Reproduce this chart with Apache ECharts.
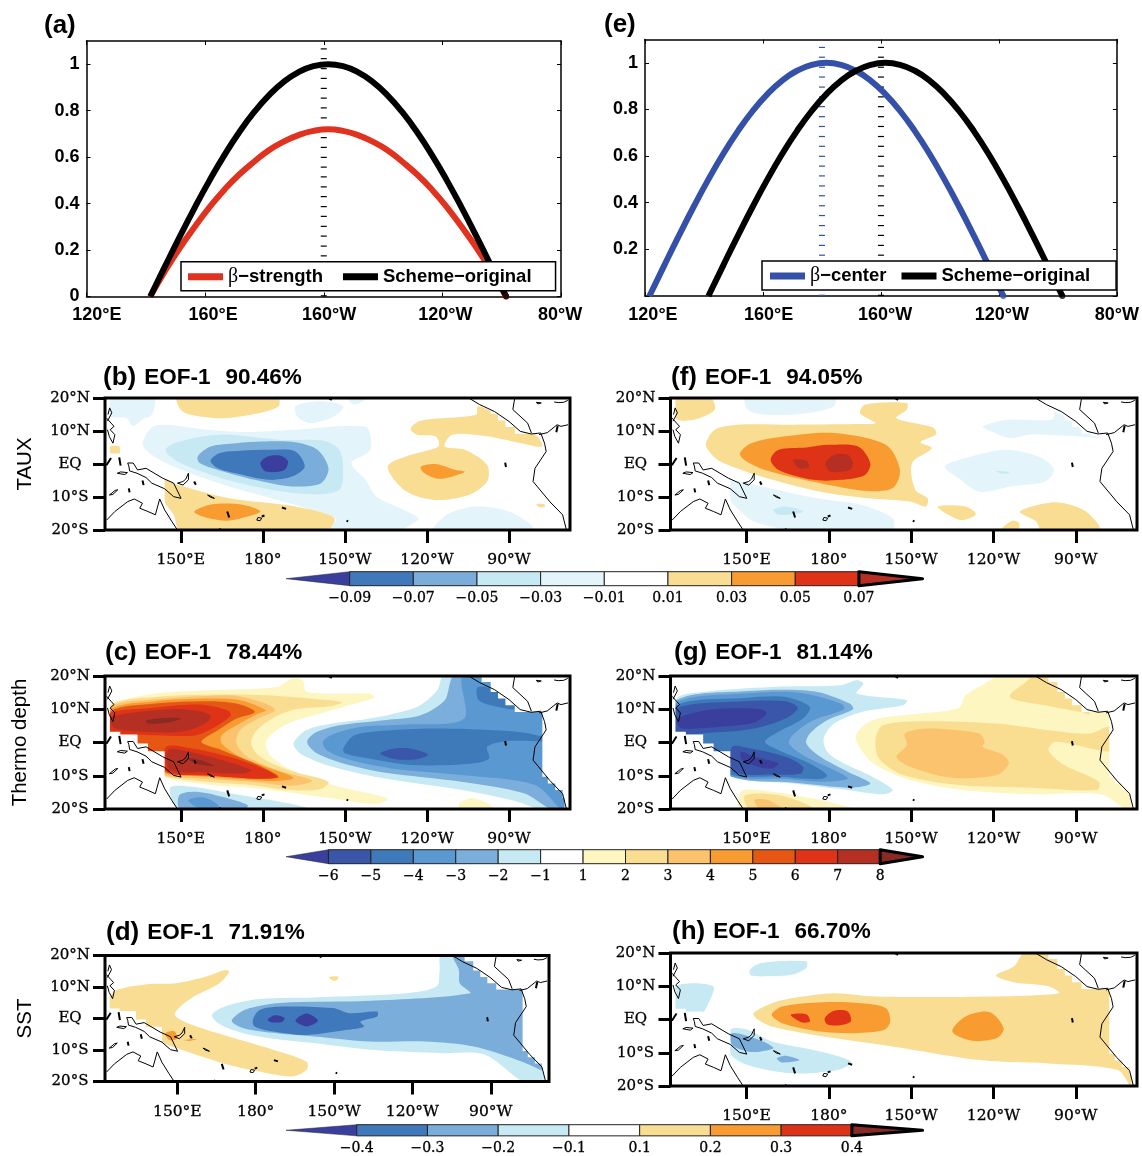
<!DOCTYPE html>
<html><head><meta charset="utf-8">
<script src="https://cdn.jsdelivr.net/npm/echarts@6/dist/echarts.min.js"></script>
<style>html,body{margin:0;background:#fff}#c{width:1142px;height:1156px}</style></head>
<body><div id="c"></div>
<script>
// ---------- line panels (a), (e) ----------
const blackLon = [141.5,146.5,151.5,156.5,161.5,166.5,171.5,176.5,181.5,186.5,191.5,196.5,201.5,206.5,211.5,216.5,221.5,226.5,231.5,236.5,241.5,246.5,251.5,256.5,261.5];
const blackVal = [0,0.1305,0.2588,0.3827,0.5,0.6088,0.7071,0.7934,0.866,0.9239,0.9659,0.9914,1,0.9914,0.9659,0.9239,0.866,0.7934,0.7071,0.6088,0.5,0.3827,0.2588,0.1305,0];
const redVal   = [0,0.11,0.21,0.3,0.385,0.46,0.525,0.58,0.63,0.667,0.695,0.713,0.72,0.713,0.695,0.667,0.63,0.58,0.525,0.46,0.385,0.3,0.21,0.11,0];
const blueLon  = [121.5,126.5,131.5,136.5,141.5,146.5,151.5,156.5,161.5,166.5,171.5,176.5,181.5,186.5,191.5,196.5,201.5,206.5,211.5,216.5,221.5,226.5,231.5,236.5,241.5];
const blueVal  = [0,0.1305,0.2588,0.3827,0.5,0.6088,0.7071,0.7934,0.866,0.9239,0.9659,0.9914,1,0.9914,0.9659,0.9239,0.866,0.7934,0.7071,0.6088,0.5,0.3827,0.2588,0.1305,0];
const dashLevels = [1.066,1.024,0.981,0.939,0.896,0.854,0.812,0.769,0.727,0.684,0.642,0.599,0.557,0.515,0.472,0.430,0.387,0.345,0.302,0.260,0.217,0.175,0.003];
const lineXLabels = ['120°E','160°E','160°W','120°W','80°W'];
const lineXTicks = [120,160,200,240,280];
const lineYTicks = [0,0.2,0.4,0.6,0.8,1];

// ---------- colour scales ----------
const tauxColors = ['#3a3f9e','#3f78bb','#7baddb','#c6e9f3','#e3f5fa','#ffffff','#f8dd92','#f89c31','#de3316','#b53022'];
const thermoColors = ['#3a3f9e','#3a56a8','#3e7aba','#5a98d2','#7caedb','#c6e9f3','#ffffff','#fdf6c0','#f9de92','#fcc36f','#f89c31','#e75714','#de3316','#b53022','#8a2a24'];
const sstColors = ['#3a3f9e','#3f78bb','#7baddb','#c6e9f3','#ffffff','#f8dd92','#f89c31','#de3316','#8a2a24'];
const tauxLabels = ['−0.09','−0.07','−0.05','−0.03','−0.01','0.01','0.03','0.05','0.07'];
const thermoLabels = ['−6','−5','−4','−3','−2','−1','1','2','3','4','5','6','7','8'];
const sstLabels = ['−0.4','−0.3','−0.2','−0.1','0.1','0.2','0.3','0.4'];

// ---------- map axes ----------
const lonTicks = [150,180,210,240,270];
const lonLabels = ['150°E','180°','150°W','120°W','90°W'];
const latTicks = [-20,-10,0,10,20];
const latLabels = ['20°S','10°S','EQ','10°N','20°N'];

// ---------- filled contours: [colour index, [lon,lat, lon,lat, ...]] ----------
const contoursB = [
 [4,[123,20,140,20,139.5,15,136,13.5,132.5,11.5,130,14,123,14.5]],
 [4,[136,6.3,140.7,11.7,159.6,10.4,173,9.7,191.9,10.4,217.5,11.4,219.5,7.8,218.9,3.8,212.4,0.3,217.5,-4.8,221.6,-9.9,230.3,-13.4,237,-16.5,235,-18,229.6,-20,203.4,-20,206.7,-16.5,191.9,-12.4,167.7,-6.8,148.8,-1.3,139.4,2.8]],
 [4,[192,17.5,201.3,19,209.4,17.5,206,14.4,197.3,12.4,192.6,14.4]],
 [4,[210.8,20.5,218.9,20.5,213.5,18]],
 [4,[242.5,-20.5,247.2,-15.4,258,-12.9,270,-14.4,278.2,-18.5,278.8,-20.5]],
 [3,[144.7,4.8,150.1,7,165,8.9,186.5,7.3,202.7,7,208,4.3,209.4,-1.8,208,-7.8,198.7,-9.2,181.1,-7.5,165,-4.3,151.5,-0.3,145.4,2.8]],
 [2,[156.2,2.3,160.9,5.3,170.4,6.3,179.8,6.8,191.9,6.6,200,4.3,204,-1.3,201.3,-5.8,190.6,-6.8,177.1,-4.8,163.6,-1.8,156.9,0.3]],
 [1,[160.9,1,164.3,3.3,171.7,4,183.8,4.3,191.9,3.8,195.3,-0.8,190.6,-3.8,182.5,-4.8,171.7,-3.1,163.6,-1.3]],
 [0,[179.1,0.3,181.8,2.3,186.5,2.5,189.2,0.8,187.9,-1.8,181.1,-2.3]],
 [6,[148.8,20.5,185.2,20.5,185.8,17.5,178.4,15.4,165,13.9,152.8,15.1,149.5,17]],
 [6,[144.1,-4.8,148.8,-6.3,167.7,-10.4,191.9,-12.9,206.1,-16.3,202.7,-20.5,150.1,-20.5,147.4,-15.4,144.1,-11.4]],
 [6,[124.3,5.3,127.5,5.3,127.5,3,124.3,3]],
 [6,[225.6,-0.8,232.3,2.3,243.1,4.8,244.5,5.8,243.1,8.4,236.4,8.9,234,10.7,237.7,13.1,258,14.9,258.6,17.5,264.7,15.4,272.8,11.4,279.5,9.1,282.2,5.3,272.8,6.6,262,8.4,249.2,8.9,246.5,5.3,253.9,4.3,262,-0.3,262,-5.3,255.2,-9.4,243.1,-10.9,232.3,-8.2]],
 [6,[280,-12.2,283,-12.2,283,-13,281,-13]],
 [7,[237.7,-0.8,243.1,0,250.5,-1.8,253.9,-2.3,251.2,-3.3,244.5,-4.5,239.1,-2.8]],
 [7,[154.9,-14.4,161.6,-12.2,173,-12.4,179.1,-14.4,171.7,-16.5,166.3,-17.2,158.2,-16]]
];
const contoursF = [
 [6,[123.9,20.5,136.5,20.5,138.4,16.5,130.8,13.4,123.9,13.9]],
 [6,[135.2,6.3,138.4,10.4,146.6,11.9,166.8,11.9,189.5,12.1,197,12.4,191.4,15.4,193.3,18,208.4,18.5,208.4,16.5,204.6,13.9,217.8,11.1,219.1,9.1,213.4,6.6,217.5,4.8,210.3,0.3,211.5,-7.8,216,-10.4,215.3,-12.9,209.6,-11.4,194.5,-10.4,176.9,-8.4,155.4,-3.8,140.3,0.8,135.9,4.3]],
 [7,[147.6,3.3,151.7,6.3,164.2,8.4,181.9,9.4,200.8,5.8,205.9,-1.8,203.3,-7.3,194.5,-8.2,176.9,-5.8,156.7,-1.8,149.1,1.3]],
 [8,[158.8,1.3,161.7,4.3,171.8,5,180,5.8,190.7,5.3,195.1,0.3,193.2,-3.3,184.4,-4.8,174.3,-4.8,161.7,-1.8]],
 [9,[178.8,0.3,181.9,2.8,186.9,2.8,188.8,0.3,187.6,-1.8,180.6,-2.3]],
 [9,[167,1.2,171.8,1,172.8,-0.8,169.3,-1.3]],
 [4,[149.7,20.5,181.9,20.5,181.9,17.5,171.8,15.4,156.7,14.9,150.4,16.5]],
 [4,[236.1,11.4,245,13.4,261.4,13.4,262.6,16,266.4,13.9,275.3,8.9,280.3,7.8,270.2,8.4,252.5,8.9,246.2,7.8,238.7,10.1]],
 [4,[222.3,-0.8,229.8,1.8,244.9,4.3,257.6,1.8,262,-1.8,258.8,-5.3,246.2,-6.8,234.9,-8.4,227.3,-4.3]],
 [3,[241,-2.2,244,-2.2,246,-2.7,243,-2.9]],
 [4,[144.1,-5.3,155.4,-6.8,175.6,-10.4,192,-12.4,203.3,-16.5,202.7,-20.5,170.6,-20.5,152.9,-17.5,146.6,-13.4,144.1,-10.9]],
 [3,[159.8,-13.9,164.2,-12.9,170.6,-14.4,164.9,-15.4,161.1,-15.2]],
 [6,[242.2,-20.5,246.8,-17.2,249.4,-18,248.7,-20.5]],
 [6,[249.7,-14.4,262.6,-11.6,272.7,-13.9,278.4,-18.5,278.4,-20.5,257.6,-20.5,255.7,-17.5]],
 [6,[219.7,-12.9,229.8,-12.9,233.6,-15.2,228.6,-17,223.5,-15.4]]
];
const contoursC = [
 [7,[125.9,12.2,140.7,14.7,159.6,15.7,185.2,16.7,190.6,19.2,194.6,18.7,196,15.2,218.9,14.7,220.9,13.5,209.4,10.7,198.7,8.2,187.9,5.2,181.1,0.2,183.2,-4.3,191.9,-8.8,205.4,-12.8,225.6,-16.8,221.6,-18.6,205.4,-16.8,178.4,-13.8,159.6,-12.6,143.4,-10.3,135,-5,123,2,123,11]],
 [8,[124.5,11.2,140.7,13.7,165,14.4,181.1,14.2,208.8,12.2,205.4,11,191.9,10,183.8,7.4,177.8,3.7,175.7,-0.3,179.1,-4.3,189.2,-8.3,204,-11.8,201.3,-14,189.2,-14.3,175.7,-12.8,159.6,-11.8,143.4,-10,135,-5,123,2]],
 [9,[124.5,10.7,140.7,13,159.6,14,170.4,14,181.1,11.7,184.5,9.7,178.4,7.2,171.7,3.7,170.4,-0.3,174.4,-4.3,185.2,-8.3,198,-11.5,190.6,-13,175.7,-11.8,159.6,-11,143.4,-9.8,135,-5,123,2]],
 [10,[124.5,10,140.7,12.4,159.6,13.2,171.7,12.7,181.1,9.7,178.4,8.7,170.4,5.2,165,2.2,165,-0.3,171.7,-4.3,181.1,-7.3,191.2,-10.6,183.8,-11.6,170.4,-11,159.6,-10.3,144.1,-9.3,135,-5,123,2]],
 [11,[124.5,9.4,140.7,11.7,159.6,12.4,170.4,11.7,177.1,9.2,170.4,7.2,163.6,3.7,157.5,0.2,165,-2.3,175.7,-5.8,185.8,-10.3,178.4,-11,167.7,-10.3,151.5,-9.8,144.1,-8.8,135,-5,123,2]],
 [12,[124,8.7,137,10.2,156.9,11.4,167,9.7,168.3,8.2,163.6,5.2,155.5,2.2,140.7,2.2,127.9,2.4,124,3]],
 [12,[144.7,-1.3,154.2,-1.8,167.7,-4.3,178.4,-7.3,185.2,-10.3,175.7,-10.8,158.2,-9.8,144.7,-8.8]],
 [13,[124.3,7.7,137,9.4,151.5,10,160.9,8.2,158.9,5.7,150.1,3.2,138,3.2,125.9,4.2,124.3,6.2]],
 [13,[145.4,-2.3,154.2,-3,165,-5.3,175.7,-8.3,173,-9.3,159.6,-9,146.1,-8.3]],
 [14,[137.3,6.7,144.7,7.4,150.1,7.2,145.4,6,138,5.7]],
 [14,[152,-4.6,157,-5.3,162,-7,156,-6.5]],
 [5,[191.2,-0.3,195.9,3.7,205.4,5.7,218.9,7.2,236.4,10.7,243.8,15.7,246.5,20.5,293,20.5,293,-20.5,282.6,-20.5,273.2,-17.8,252.9,-14.3,223,-10.6,205.4,-7.3,194.2,-3.6]],
 [4,[196.2,0.2,199.3,3,208.1,5.2,224.3,6.7,237.7,8.2,246.5,12.7,250.5,20.5,293,20.5,293,-20.5,286.3,-20.5,275.5,-15.3,252.6,-11.8,224.3,-9,209.4,-6.3,199.3,-3]],
 [3,[202,0.2,205.4,2.4,216.2,4.7,232.3,5.4,253.6,7.2,253.6,20.5,293,20.5,293,-20.5,289.6,-20.5,279.5,-12.8,252.6,-9.8,227,-7.8,212.1,-5.3,203.4,-2.3]],
 [2,[209.4,-1.8,213.5,2.2,227,3.7,245.8,4.2,272.8,3.2,285,1.2,285,0.4,268.8,0.4,262,-1.3,262.7,-4.8,256.6,-6.3,234.9,-6.8,218.9,-4.8,210.1,-3.3]],
 [2,[258.9,12.7,258.6,16.7,265.4,15.7,272.8,10.2,266,10.7]],
 [1,[222.9,-3.3,227,-2,233.7,-1.8,240.4,-3.6,236.4,-5,228.3,-5]],
 [5,[146.1,-13.6,154.2,-13.3,171.7,-15.8,189.2,-18.3,198.7,-20.5,150,-20.5]],
 [4,[149.5,-15.8,155.5,-14.8,165,-16.3,174.4,-18.8,173,-20.5,150,-20.5]],
 [3,[152.8,-17.3,158.2,-16.5,163.6,-18.8,163,-20.5,155.5,-19.3]],
 [7,[251.9,-18.3,256.6,-16.8,263.3,-18.8,264,-20.5,252.6,-20.5]]
];
const contoursG = [
 [5,[124.5,13.2,134,15.2,159.2,16.7,184.4,17.2,190.1,18.7,192.6,17.7,190.1,14.7,208.4,12.7,207.1,11.2,192,9.2,181.9,5.7,178.1,1.2,179.4,-2.8,184.4,-5.8,195.8,-10.3,203.3,-14.3,199.6,-15.6,186.9,-14.3,166.8,-12.3,147.9,-10.8,135,-5,123,2]],
 [4,[124.5,12.7,149.1,15.4,174.3,15.4,187.6,11.7,188.8,10,179.4,6.7,173.1,2.7,171.8,-0.3,176.9,-4.3,186.9,-8.8,195.1,-12.3,188.2,-13.6,166.8,-12,146.6,-10.8,135,-5,123,2]],
 [3,[124.5,12,149.1,14.7,169.3,15,184.4,11.7,185.6,10,174.3,6.7,166.8,2.2,165.5,-0.3,170.6,-3.8,179.4,-7.3,186.9,-10.8,176.9,-11.8,164.2,-11,144.7,-10.3,135,-5,123,2]],
 [2,[124.5,11.2,149.1,13.4,164.2,13.7,173.1,10.7,170.6,7.2,161.7,3.2,156.7,0.2,163,-2.8,171.8,-5.8,179.4,-9.8,176.9,-11,161.7,-10.3,144.7,-9.8,135,-5,123,2]],
 [1,[124.2,10.2,149.1,12.4,164.2,12.4,168.7,10.4,164.2,7.2,152.9,4.2,137.8,3,124.2,3]],
 [1,[144.7,-1.3,151.6,-1.8,164.2,-4.3,170.6,-7.3,169.9,-9.3,160.5,-9.6,145.3,-8.8]],
 [0,[125.8,7.7,137.8,10,155.4,10,157.3,8.7,152.9,6,140.3,4.7,126.4,4.2,124.5,6.2]],
 [0,[147.9,-2.8,152.9,-4.3,161.7,-6.3,159.2,-7.8,154.2,-7.3,148.5,-5.3]],
 [7,[190.1,2.7,195.8,6.7,209.6,8.4,227.3,10.4,229.8,14.2,236.1,17.4,243.7,20.5,293,20.5,293,-20.5,289.1,-20.5,279,-15.6,255,-15.6,228.6,-14.3,209.6,-11.3,197,-6.8,190.7,-0.8]],
 [8,[197,0.7,199.6,5.2,216,6.4,241.2,5.7,260.1,3.7,275.2,2.7,281.5,4.7,284,4.7,284,-2.3,278.4,-2.3,262.6,0.2,260.1,-2.3,265.8,-6.8,278.4,-11.8,277.7,-14.3,253.8,-13.6,227.3,-12.8,207.1,-9.8,198.3,-4.8]],
 [8,[246,13.7,252.5,18.7,254.4,20.5,275,20.5,275,8.5,272.7,9,260.1,11]],
 [9,[204.6,-4.3,208.4,-0.8,207.7,2.7,216,4.2,234.9,2.7,236.8,0.2,236.1,-1.3,243.7,-3.8,245.6,-6.3,241.2,-9.8,224.8,-10.6,209.6,-7.3]],
 [7,[148.1,-14.6,159.2,-14.8,176.9,-17.3,190.1,-20.5,148.1,-20.5]],
 [8,[149.4,-16,161.7,-15.8,173.7,-19.3,173.1,-20.5,151.6,-20.5]],
 [9,[152.9,-17.3,157.9,-17.3,163.6,-20.5,155.4,-20.5]]
];
const contoursD = [
 [5,[123.8,6.5,127,9.1,138.3,10.9,149.7,11.2,161.1,13.3,168.2,15.4,169.9,14.9,166.1,11.2,155.4,6.5,149,1.4,154,-1.5,169.6,-5.7,186.7,-9.9,199.5,-13.7,199.5,-16.3,193.8,-18.4,178.2,-16.3,165.4,-13.7,149.7,-9.4,142.6,-7.3,122.5,-5,122.5,3]],
 [5,[208,13.1,211.6,13.3,210.9,12.1,209.5,12.1]],
 [6,[145.4,-4.7,149,-4.1,149.7,-6.5,146.9,-6.8]],
 [6,[152.6,-6.8,157.5,-6.5,154.7,-7.1]],
 [3,[163.2,1,168.2,3.8,181,6.2,202.3,6.7,237.9,8,249.3,10.2,250.4,15,251.4,20.5,293,20.5,293,-20.5,283.4,-20.5,267.8,-11.5,252.1,-11,223.7,-9.9,202.3,-7.8,181,-5.7,167.8,-2.5]],
 [2,[170.8,-0.7,176,2.8,189.5,4.9,223.7,5.6,262.1,8,258.1,11.2,257.8,15.4,255.7,20.5,293,20.5,293,-17,290.5,-16.8,282,-13.7,263.5,-8.9,245,-7.3,223.7,-7.3,202.3,-5.7,188.1,-4.7,175.3,-3.1]],
 [1,[178.9,-0.4,181.7,2.8,191,3.8,209.5,3.3,215.9,1.7,226.5,2.2,226.5,0.6,220.1,-1,221.5,-2.5,215.1,-3.6,199.5,-5.2,186.7,-4.1,179.6,-2.5]],
 [0,[184.6,-0.4,187.4,1,191,0.2,190.3,-1,186,-1.2]],
 [0,[195.2,-0.7,199.5,1.6,203.8,-0.7,199.5,-2.5]]
];
const contoursH = [
 [5,[152.5,1.9,159.2,4.9,168,6.6,181.9,7.9,197,6.9,238.7,6.9,263.9,7.9,260.1,10,247.5,11.2,240.9,13.2,247.5,16,251.9,20.5,293,20.5,293,-20.5,290.4,-20.5,285.3,-15.2,260.1,-13.2,234.9,-12.2,203.3,-8.1,178.1,-5.1,159.2,-2.1,153.5,0.4]],
 [6,[159.2,1.4,163,3.9,178.1,5.2,192,4.9,200.8,3.4,202.4,-0.6,200.2,-3.1,189.5,-4.1,176.9,-3.6,163,-1.1]],
 [6,[225,-3.6,229.8,0.9,238.7,2.2,243.7,-2.6,241.2,-5.6,232.3,-6.4]],
 [7,[166.1,1.4,171.8,1.6,173.1,-0.6,169.9,-0.8]],
 [7,[178.5,0.4,181.9,2.6,186.9,2.4,188,-0.6,183.2,-1.8,179.4,-1.4]],
 [3,[151.3,15,155.4,17,171.8,17.5,171.8,15.5,166.8,13.5,157.9,13,151.6,13.3]],
 [3,[123.9,10,137.8,10,135.9,4.4,133.4,1.7,123.9,3.4]],
 [3,[144.1,-3.1,150.4,-3.1,159.2,-6.6,176.9,-9.6,188.2,-12.7,183.2,-15.2,166.8,-16.2,150.4,-13.7,144.1,-10.2]],
 [2,[144.7,-4.1,155.4,-6.4,159.8,-8.6,155.4,-9.6,150.4,-9.6,144.7,-7.6]],
 [2,[161.1,-11.7,164.3,-10.9,169.3,-12.2,163,-12.9]]
];

// ---------- land mask and coastlines (lon, lat) ----------
const maskWest = [122,20.5,124.1,20.5,124.1,3.2,127.9,3.2,127.9,2.4,134.2,2.4,134.2,-0.3,138,-0.3,138,-2.6,144.1,-2.6,144.1,-20.5,122,-20.5];
const maskEast = [260,20.5,260,18.2,263.3,18.2,263.3,15.2,266,15.2,266,13.2,268.7,13.2,268.7,11.2,272.1,11.2,272.1,9.2,282.2,9.2,282.2,-10.3,284.2,-10.3,284.2,-12.3,286.9,-12.3,286.9,-14.3,289.6,-14.3,289.6,-16.8,290.3,-16.8,290.3,-20.5,293,-20.5,293,20.5];
const coastLines = [
 [255.3,20,259.3,18,264.7,15.9,270,12.9,274.1,9.9,278.1,9.1,281.6,9.4,283,6.3,283.6,3.8,279.5,-1.3,278.8,-5.3,284.9,-11.4,289.6,-15.4,291,-20],
 [272.1,20,271.4,16.5,276.8,12.4,278.2,9.4],
 [281,8.9,284,9.5,287.6,11.9,289,11.4,291.6,11.9],
 [287.3,9.6,287.8,11.6],
 [280,18.7,281.8,18.5,280.5,18.2,280,18.7],
 [286.5,18.8,288,18.6,290,18.7,291.5,19.3],
 [122.9,13.9,124.5,12.4,125.6,11.4,124.2,10.4,125.9,8.9,125.2,6.3,123.9,8.3,123.2,10.4],
 [123.2,13,124.8,15.5,124,17,123.4,15],
 [122.8,-0.4,124.5,1.8],
 [127.5,2,128,-0.5],
 [126.8,-2.8,129.5,-3.2,130.5,-2.6,128,-2.4,126.8,-2.8],
 [130.6,0.3,132.6,0.3,134.2,-1.8,137.3,-1.3,143.4,-4.3,147.4,-5.8,150.1,-10.4,147.4,-9.9,144.1,-7.5,139.4,-5.8,137.3,-4.1,134,-2.8,131.3,-2.1,131,-0.6,130.6,0.3],
 [148.8,-5.8,150.8,-6.4,152.8,-4.8,152.8,-2.8,151.8,-4.6,150.8,-5.3,148.8,-5.8],
 [154.9,-5.3,155.5,-6.3],
 [159.8,-9.4,160.6,-9.6,162.3,-10.4,160.9,-10.1,159.8,-9.4],
 [167,-14.4,167.7,-16.2],
 [187,-13.2,188.5,-13.6],
 [177.8,-17,179,-17.2,179.6,-16.4,178.2,-16.2,177.8,-17],
 [179.6,-15.9,180.6,-15.6],
 [210.6,-17.2,211.2,-17.4],
 [122.9,-17,125.9,-14.4,130.6,-11.4,133,-10.6,136,-11.9,135,-13.4,138,-14.4,140.7,-15.4,142.3,-10.6,144.1,-13.9,146.8,-17.5,148.8,-20],
 [123.9,-9.4,126,-8,127,-7.8,125.2,-9.2,123.9,-9.4],
 [131,-7.4,131.3,-8.6],
 [136,-5,136.4,-6.4],
 [204,20,205.2,19.4],
 [164,-20,164.6,-19.6],
 [268.6,0.4,268.9,-0.9]
];

// ---------- panels and titles ----------
const panels = [
 {tag:'(b)',pct:'90.46%',polys:contoursB,colors:tauxColors,l:105,t:398,w:465,h:132,name:'TAUX',gap:69,tx:103,ty:364.5},
 {tag:'(c)',pct:'78.44%',polys:contoursC,colors:thermoColors,l:105,t:676,w:465,h:133,name:'Thermo depth',gap:74,tx:105,ty:640},
 {tag:'(d)',pct:'71.91%',polys:contoursD,colors:sstColors,l:105,t:955.5,w:444,h:126,name:'SST',gap:69,tx:106,ty:919.5},
 {tag:'(f)',pct:'94.05%',polys:contoursF,colors:tauxColors,l:670.5,t:398,w:466.5,h:132,name:'',gap:69,tx:671,ty:364.5},
 {tag:'(g)',pct:'81.14%',polys:contoursG,colors:thermoColors,l:670.5,t:676,w:466.5,h:133,name:'',gap:69,tx:674,ty:640},
 {tag:'(h)',pct:'66.70%',polys:contoursH,colors:sstColors,l:670.5,t:953,w:466.5,h:133,name:'',gap:69,tx:672,ty:919}
];
const bars = [
 {colors:tauxColors,labels:tauxLabels,t:571.7},
 {colors:thermoColors,labels:thermoLabels,t:849.7},
 {colors:sstColors,labels:sstLabels,t:1124.7}
];

const SANS='"Liberation Sans",Helvetica,Arial,sans-serif', SERIF='"DejaVu Serif",serif';
const option={animation:false,backgroundColor:'#fff',title:[],legend:[],grid:[],xAxis:[],yAxis:[],series:[],tooltip:{show:false}};
let gi=0;

function dashSeries(idx,lon,color){
  return {type:'scatter',xAxisIndex:idx,yAxisIndex:idx,symbol:'rect',symbolSize:[6,1.2],silent:true,z:3,clip:false,
    itemStyle:{color,opacity:1},data:dashLevels.map(v=>[lon,v])};
}
function linePanel(cfg){
  const i=option.xAxis.length;
  option.grid.push({left:cfg.l,top:cfg.t,width:cfg.w,height:cfg.h});
  const g=gi++;
  const common={axisLine:{show:true,onZero:false,lineStyle:{color:'#000',width:1.5}},splitLine:{show:false}};
  const tick={show:true,inside:true,length:4,lineStyle:{color:'#000',width:1}};
  option.xAxis.push({...common,type:'value',gridIndex:g,min:120,max:280,position:'bottom',
    axisTick:{...tick,customValues:lineXTicks},
    axisLabel:{show:true,customValues:cfg.xLabelAt,margin:10,color:'#000',fontFamily:SANS,fontWeight:'bold',fontSize:18,hideOverlap:false,
      formatter:(v)=>lineXLabels[cfg.xLabelAt.indexOf(v)]}});
  option.yAxis.push({...common,type:'value',gridIndex:g,min:0,max:1.1,position:'left',
    axisTick:{...tick,customValues:lineYTicks},
    axisLabel:{show:true,customValues:cfg.yLabels,margin:7,color:'#000',fontFamily:SANS,fontWeight:'bold',fontSize:18,hideOverlap:false,
      formatter:(v)=>v===0?'0':String(v)}});
  option.xAxis.push({...common,type:'value',gridIndex:g,min:120,max:280,position:'top',axisTick:{...tick,customValues:lineXTicks},axisLabel:{show:false}});
  option.yAxis.push({...common,type:'value',gridIndex:g,min:0,max:1.1,position:'right',axisTick:{...tick,customValues:lineYTicks},axisLabel:{show:false}});
  cfg.dashes.forEach(d=>option.series.push(dashSeries(i,d[0],d[1])));
  cfg.lines.forEach(s=>{
    option.series.push({type:'line',name:s.name,xAxisIndex:i,yAxisIndex:i,smooth:0.5,showSymbol:false,clip:true,silent:true,z:4,
      lineStyle:{color:s.color,width:6},itemStyle:{color:s.color},data:s.lon.map((x,k)=>[x,s.val[k]])});
    option.series.push({type:'scatter',xAxisIndex:i,yAxisIndex:i,clip:false,silent:true,z:4,symbolSize:6,itemStyle:{color:s.color},
      data:[[s.lon[s.lon.length-1],s.val[s.val.length-1]]]});
  });
  option.legend.push({show:true,left:cfg.lgX,top:cfg.lgY,orient:'horizontal',selectedMode:false,z:6,
    itemWidth:35,itemHeight:7,itemGap:cfg.lgGap,padding:cfg.lgPad,borderColor:'#000',borderWidth:1.5,backgroundColor:'#fff',
    data:cfg.lines.map(s=>({name:s.name,icon:'rect'})),
    formatter:n=>n.startsWith('β')?'{g|β}{n|'+n.slice(1)+'}':'{n|'+n+'}',
    textStyle:{color:'#000',rich:{g:{fontFamily:'"Liberation Serif",serif',fontSize:20,color:'#000'},n:{fontFamily:SANS,fontWeight:'bold',fontSize:18.5,color:'#000'}}}});
  option.title.push({text:cfg.tag,left:cfg.tagX,top:cfg.tagY,padding:0,textStyle:{fontFamily:SANS,fontWeight:'bold',fontSize:26,color:'#000'}});
}

linePanel({tag:'(a)',tagX:44,tagY:13,l:86.5,t:41,w:474.5,h:255.5,
  xLabelAt:[123.5,162.7,201.8,241,279.7],yLabels:lineYTicks,
  dashes:[[200,'#000']],
  lines:[{name:'β−strength',color:'#e1321f',lon:blackLon,val:redVal},{name:'Scheme−original',color:'#000',lon:blackLon,val:blackVal}],
  lgX:181,lgY:261.7,lgGap:20,lgPad:[5,24,4,7]});
linePanel({tag:'(e)',tagX:604,tagY:11.5,l:645,t:39.5,w:475,h:256.5,
  xLabelAt:[122.7,161.9,201.4,241,280],yLabels:lineYTicks.slice(1),
  dashes:[[180,'#3450a8'],[200,'#000']],
  lines:[{name:'β−center',color:'#3450a8',lon:blueLon,val:blueVal},{name:'Scheme−original',color:'#000',lon:blackLon,val:blackVal}],
  lgX:762,lgY:261,lgGap:15,lgPad:[5,26,4,8]});

panels.forEach(p=>{
  const i=option.xAxis.length;
  option.grid.push({left:p.l,top:p.t,width:p.w,height:p.h});
  const g=gi++;
  option.xAxis.push({type:'value',gridIndex:g,min:122.3,max:292.3,position:'bottom',axisLine:{show:false,onZero:false},splitLine:{show:false},
    axisTick:{show:true,length:13,lineStyle:{color:'#000',width:3},customValues:lonTicks},
    axisLabel:{show:true,customValues:lonTicks,margin:22,color:'#000',fontFamily:SERIF,fontSize:15.5,textBorderColor:'#000',textBorderWidth:0.3,hideOverlap:false,
      formatter:v=>lonLabels[lonTicks.indexOf(v)]}});
  option.yAxis.push({type:'value',gridIndex:g,min:-20,max:20,interval:10,position:'left',axisLine:{show:false,onZero:false},splitLine:{show:false},
    name:p.name,nameLocation:'middle',nameRotate:90,nameGap:p.gap,nameMoveOverlap:false,nameTextStyle:{fontFamily:SANS,fontSize:20.5,color:'#000'},
    axisTick:{show:true,length:12,lineStyle:{color:'#000',width:3}},
    axisLabel:{show:true,margin:35,align:'center',color:'#000',fontFamily:SERIF,fontSize:15,textBorderColor:'#000',textBorderWidth:0.3,
      formatter:v=>latLabels[latTicks.indexOf(v)]}});
  option.series.push({type:'custom',xAxisIndex:i,yAxisIndex:i,clip:true,silent:true,z:2,
    data:p.polys.map((_,k)=>[k]),
    renderItem:(params,api)=>{
      const [lvl,f]=p.polys[params.dataIndex],pts=[];
      for(let k=0;k<f.length;k+=2)pts.push(api.coord([f[k],f[k+1]]));
      return {type:'polygon',shape:{points:pts,smooth:0.3},style:{fill:p.colors[lvl]}};
    }});
  option.series.push({type:'custom',xAxisIndex:i,yAxisIndex:i,clip:true,silent:true,z:3,
    data:[[0],[1]],
    renderItem:(params,api)=>{
      const f=params.dataIndex?maskEast:maskWest,pts=[];
      for(let k=0;k<f.length;k+=2)pts.push(api.coord([f[k],f[k+1]]));
      return {type:'polygon',shape:{points:pts},style:{fill:'#fff'}};
    }});
  option.series.push({type:'custom',xAxisIndex:i,yAxisIndex:i,clip:true,silent:true,z:4,
    data:coastLines.map((_,k)=>[k]),
    renderItem:(params,api)=>{
      const f=coastLines[params.dataIndex],pts=[];
      for(let k=0;k<f.length;k+=2)pts.push(api.coord([f[k],f[k+1]]));
      return {type:'polyline',shape:{points:pts},style:{fill:'none',stroke:'#000',lineWidth:f.length<=4?2:1}};
    }});
  option.series.push({type:'custom',xAxisIndex:i,yAxisIndex:i,clip:false,silent:true,z:5,data:[[0]],
    renderItem:(params)=>{
      const c=params.coordSys;
      return {type:'rect',shape:{x:c.x,y:c.y,width:c.width,height:c.height},style:{fill:'none',stroke:'#000',lineWidth:3}};
    }});
  option.title.push({text:'{p|'+p.tag+'}{s| }{e|EOF-1}{g| }{e|'+p.pct+'}',left:p.tx,top:p.ty,padding:0,
    textStyle:{rich:{p:{fontFamily:SANS,fontWeight:'bold',fontSize:26,color:'#000'},s:{width:8},g:{width:15},e:{fontFamily:SANS,fontWeight:'bold',fontSize:22.5,color:'#000'}}}});
});

bars.forEach(b=>{
  const i=option.xAxis.length,n=b.colors.length;
  option.grid.push({left:286,top:b.t,width:636.6,height:14});
  const g=gi++;
  const at=b.labels.map((_,k)=>k+1);
  option.xAxis.push({type:'value',gridIndex:g,min:0,max:n,position:'bottom',axisLine:{show:false,onZero:false},splitLine:{show:false},axisTick:{show:false,customValues:at},
    axisLabel:{show:true,customValues:at,margin:6,color:'#000',fontFamily:SERIF,fontSize:14,textBorderColor:'#000',textBorderWidth:0.3,hideOverlap:false,
      formatter:v=>b.labels[v-1]}});
  option.yAxis.push({type:'value',gridIndex:g,min:0,max:1,show:false});
  option.series.push({type:'custom',xAxisIndex:i,yAxisIndex:i,clip:false,silent:true,z:3,
    data:b.colors.map((_,k)=>[k]),
    renderItem:(params,api)=>{
      const k=params.dataIndex;let pts;
      if(k===0)pts=[api.coord([0,0.5]),api.coord([1,1]),api.coord([1,0])];
      else if(k===n-1)pts=[api.coord([n,0.5]),api.coord([n-1,1]),api.coord([n-1,0])];
      else pts=[api.coord([k,0]),api.coord([k+1,0]),api.coord([k+1,1]),api.coord([k,1])];
      const end=k===n-1;
      return {type:'polygon',z2:end?5:1,shape:{points:pts},style:{fill:b.colors[k],stroke:end?'#000':'#222',lineWidth:end?3:(k===0?0.5:1),lineJoin:'round'}};
    }});
});

echarts.init(document.getElementById('c'),null,{renderer:'canvas'}).setOption(option);
</script></body></html>
